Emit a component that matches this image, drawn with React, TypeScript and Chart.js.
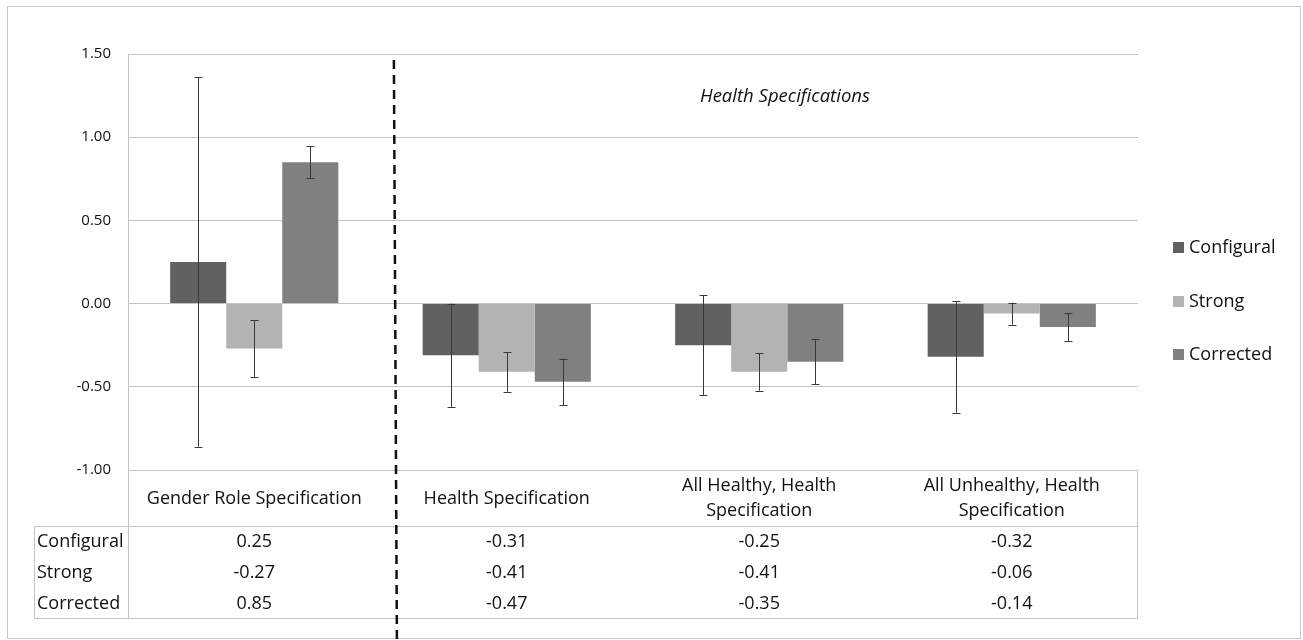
import React, { useEffect, useRef } from "react";
import { Chart, registerables } from "chart.js";

Chart.register(...registerables);

const categories: string[][] = [
  ["Gender Role Specification"],
  ["Health Specification"],
  ["All Healthy, Health", "Specification"],
  ["All Unhealthy, Health", "Specification"],
];
const seriesNames = ["Configural", "Strong", "Corrected"];
const configural = [0.25, -0.31, -0.25, -0.32];
const strong = [-0.27, -0.41, -0.41, -0.06];
const corrected = [0.85, -0.47, -0.35, -0.14];
const configuralErr = [1.11, 0.31, 0.3, 0.335];
const strongErr = [0.17, 0.12, 0.113, 0.066];
const correctedErr = [0.096, 0.14, 0.135, 0.084];
const tableValues = [
  ["0.25", "-0.31", "-0.25", "-0.32"],
  ["-0.27", "-0.41", "-0.41", "-0.06"],
  ["0.85", "-0.47", "-0.35", "-0.14"],
];
const panelTitle = "Health Specifications";
const yMin = -1;
const yMax = 1.5;
const yStep = 0.5;

const colors = ["#616161", "#b3b3b3", "#808080"];
const FONT = "'Open Sans', sans-serif";
const TEXT = "#111111";
const GRID = "#c3c3c3";

const overlay = {
  id: "overlay",
  beforeDraw(chart: any) {
    const ctx = chart.ctx;
    ctx.save();
    ctx.fillStyle = "#ffffff";
    ctx.fillRect(0, 0, chart.width, chart.height);
    ctx.strokeStyle = "#c8c8c8";
    ctx.lineWidth = 1;
    ctx.strokeRect(7.5, 6.5, 1293, 632);
    ctx.restore();
  },
  afterDatasetsDraw(chart: any) {
    const ctx = chart.ctx;
    const y = chart.scales.y;
    const errs = [configuralErr, strongErr, correctedErr];
    ctx.save();
    ctx.strokeStyle = "#383838";
    ctx.lineWidth = 1;
    chart.data.datasets.forEach((ds: any, di: number) => {
      const meta = chart.getDatasetMeta(di);
      meta.data.forEach((bar: any, i: number) => {
        const v = ds.data[i];
        const e = errs[di][i];
        const x = Math.round(bar.x) + 0.5;
        const y1 = y.getPixelForValue(v + e);
        const y2 = y.getPixelForValue(v - e);
        ctx.beginPath();
        ctx.moveTo(x, y1);
        ctx.lineTo(x, y2);
        ctx.moveTo(x - 4, Math.round(y1) + 0.5);
        ctx.lineTo(x + 4, Math.round(y1) + 0.5);
        ctx.moveTo(x - 4, Math.round(y2) + 0.5);
        ctx.lineTo(x + 4, Math.round(y2) + 0.5);
        ctx.stroke();
      });
    });
    ctx.restore();
  },
  afterDraw(chart: any) {
    const ctx = chart.ctx;
    const xs = chart.scales.x;
    const area = chart.chartArea;
    const L = area.left;
    const R = area.right;
    const B = area.bottom;
    const labelBottom = 526;
    const tableBottom = 618;
    const tableLeft = 34;
    ctx.save();
    // table lines
    ctx.strokeStyle = GRID;
    ctx.lineWidth = 1;
    ctx.beginPath();
    ctx.moveTo(L + 0.5, area.top);
    ctx.lineTo(L + 0.5, tableBottom + 0.5);
    ctx.moveTo(R - 0.5, B);
    ctx.lineTo(R - 0.5, tableBottom + 0.5);
    ctx.moveTo(tableLeft + 0.5, labelBottom + 0.5);
    ctx.lineTo(R, labelBottom + 0.5);
    ctx.moveTo(tableLeft + 0.5, labelBottom + 0.5);
    ctx.lineTo(tableLeft + 0.5, tableBottom + 0.5);
    ctx.lineTo(R, tableBottom + 0.5);
    ctx.stroke();

    ctx.fillStyle = TEXT;
    ctx.textBaseline = "middle";
    // category labels
    ctx.font = `18px ${FONT}`;
    ctx.textAlign = "center";
    categories.forEach((lines, i) => {
      const cx = xs.getPixelForValue(i);
      if (lines.length === 1) {
        ctx.fillText(lines[0], cx, 499);
      } else {
        lines.forEach((ln, k) => ctx.fillText(ln, cx, 486 + k * 25));
      }
    });
    // table rows
    const rowY = [542, 573, 604];
    seriesNames.forEach((name, r) => {
      ctx.textAlign = "left";
      ctx.fillText(name, 37, rowY[r]);
      ctx.textAlign = "center";
      tableValues[r].forEach((val, i) => {
        ctx.fillText(val, xs.getPixelForValue(i), rowY[r]);
      });
    });
    // legend
    const legY = [248, 302, 355];
    chart.data.datasets.forEach((ds: any, i: number) => {
      ctx.fillStyle = ds.backgroundColor;
      ctx.fillRect(1173, legY[i] - 6, 11, 11);
      ctx.fillStyle = TEXT;
      ctx.textAlign = "left";
      ctx.fillText(ds.label, 1189, legY[i]);
    });
    // panel title
    ctx.font = `italic 18.5px ${FONT}`;
    ctx.textAlign = "center";
    ctx.fillText(panelTitle, xs.getPixelForValue(2.102), 97);
    // dashed separator
    ctx.strokeStyle = "#111111";
    ctx.lineWidth = 2.5;
    ctx.setLineDash([9, 6]);
    ctx.beginPath();
    ctx.moveTo(xs.getPixelForValue(0.553), 60);
    ctx.lineTo(xs.getPixelForValue(0.565), 642);
    ctx.stroke();
    ctx.restore();
  },
};

export default function App() {
  const ref = useRef<HTMLCanvasElement | null>(null);
  useEffect(() => {
    if (!ref.current) return;
    const chart = new Chart(ref.current, {
      type: "bar",
      data: {
        labels: categories.map((c) => c.join(" ")),
        datasets: [
          { label: seriesNames[0], data: configural, backgroundColor: colors[0] },
          { label: seriesNames[1], data: strong, backgroundColor: colors[1] },
          { label: seriesNames[2], data: corrected, backgroundColor: colors[2] },
        ],
      },
      options: {
        responsive: false,
        animation: false,
        devicePixelRatio: 1,
        layout: { padding: { left: 0, top: 54, right: 1303 - 1138, bottom: 640 - 470 } },
        datasets: { bar: { categoryPercentage: 0.666, barPercentage: 1.0 } },
        plugins: { legend: { display: false }, tooltip: { enabled: false } },
        scales: {
          x: { display: false },
          y: {
            min: yMin,
            max: yMax,
            afterFit: (s: any) => {
              s.width = 128;
            },
            ticks: {
              stepSize: yStep,
              padding: 17,
              color: TEXT,
              font: { family: FONT, size: 15 },
              callback: (v: any) => Number(v).toFixed(2),
            },
            grid: { color: GRID, lineWidth: 1, drawTicks: false },
            border: { display: false },
          },
        },
      },
      plugins: [overlay],
    });
    return () => chart.destroy();
  }, []);
  return (
    <div style={{ position: "fixed", left: 0, top: 0, width: 1303, height: 640, background: "#fff" }}>
      <canvas ref={ref} width={1303} height={640} style={{ width: 1303, height: 640, display: "block" }} />
    </div>
  );
}
